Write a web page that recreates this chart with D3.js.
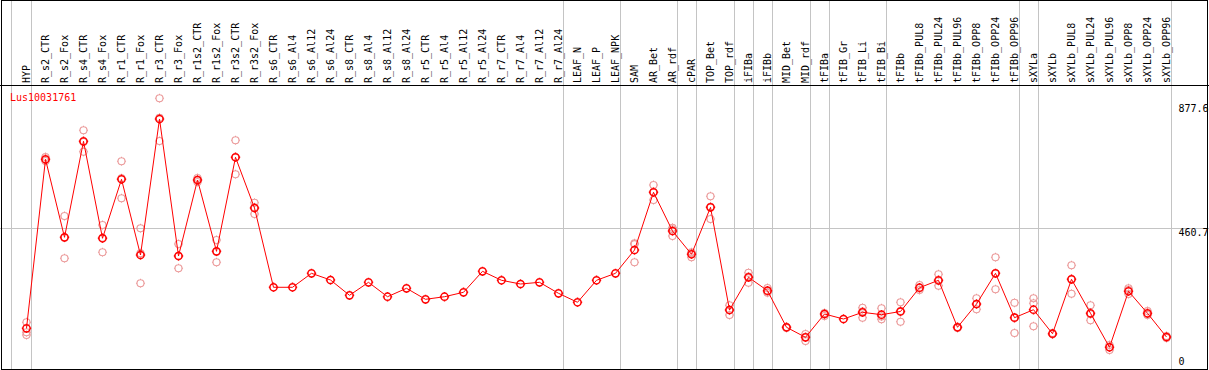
<!DOCTYPE html>
<html>
<head>
<meta charset="utf-8">
<script src="https://cdn.jsdelivr.net/npm/d3@7"></script>
<style>
  body { margin: 0; background: #fff; }
  text { font-family: "DejaVu Sans Mono", monospace; font-size: 10px; }
</style>
</head>
<body>
<div id="chart"></div>
<script>
const gene = "Lus10031761";

const samples = ["HYP", "R_s2_CTR", "R_s2_Fox", "R_s4_CTR", "R_s4_Fox", "R_r1_CTR", "R_r1_Fox",
  "R_r3_CTR", "R_r3_Fox", "R_r1s2_CTR", "R_r1s2_Fox", "R_r3s2_CTR", "R_r3s2_Fox",
  "R_s6_CTR", "R_s6_Al4", "R_s6_Al12", "R_s6_Al24", "R_s8_CTR", "R_s8_Al4", "R_s8_Al12", "R_s8_Al24",
  "R_r5_CTR", "R_r5_Al4", "R_r5_Al12", "R_r5_Al24", "R_r7_CTR", "R_r7_Al4", "R_r7_Al12", "R_r7_Al24",
  "LEAF_N", "LEAF_P", "LEAF_NPK", "SAM", "AR_Bet", "AR_rdf", "cPAR", "TOP_Bet", "TOP_rdf",
  "iFIBa", "iFIBb", "MID_Bet", "MID_rdf", "tFIBa", "tFIB_Gr", "tFIB_Li", "tFIB_Bi", "tFIBb",
  "tFIBb_PUL8", "tFIBb_PUL24", "tFIBb_PUL96", "tFIBb_OPP8", "tFIBb_OPP24", "tFIBb_OPP96",
  "sXYLa", "sXYLb", "sXYLb_PUL8", "sXYLb_PUL24", "sXYLb_PUL96", "sXYLb_OPP8", "sXYLb_OPP24", "sXYLb_OPP96"];

// mean expression per sample
const means = [125.1, 692.1, 430.4, 752.5, 427.1, 625.0, 371.0, 827.3, 367.7, 622.6, 383.4, 698.8, 528.7,
  262.7, 262.7, 309.6, 287.2, 235.8, 279.4, 231.1, 259.3, 222.4, 231.1, 245.9, 316.3, 286.2, 273.7, 279.4, 242.5,
  212.4, 286.2, 309.6, 387.8, 581.4, 451.5, 373.4, 531.0, 186.5, 296.2, 251.3, 128.5, 94.9, 173.1, 156.3,
  178.8, 170.8, 181.5, 261.3, 286.2, 128.5, 206.6, 309.6, 160.7, 187.5, 107.0, 289.5, 175.5, 61.4, 249.3, 175.5, 95.9];

// individual replicates per sample
const replicates = [
  [145.3, 111.7, 102.7], [699.8, 689.7, 686.4], [501.9, 429.4, 360.0], [789.4, 750.1, 717.6],
  [471.7, 429.1, 380.1], [685.4, 628.3, 561.2], [460.6, 376.4, 276.1], [896.7, 831.6, 753.5],
  [407.9, 368.7, 326.4], [629.3, 622.6, 616.0], [421.4, 382.4, 346.5], [755.8, 698.8, 641.8],
  [546.5, 531.0, 508.6],
  [], [], [], [], [], [], [], [], [], [], [], [], [], [], [], [], [], [], [],
  [410.0, 406.9, 346.5], [605.9, 582.4, 555.5], [462.6, 457.3, 434.8], [380.1, 376.7, 363.3],
  [568.0, 533.1, 491.8], [202.3, 187.5, 169.7], [311.7, 298.6, 278.1], [260.3, 248.9, 244.6],
  [129.5, 128.5, 126.1], [106.0, 95.9, 82.5], [176.5, 173.1, 166.4], [],
  [194.2, 181.2, 160.7], [192.2, 165.1, 155.3], [212.4, 183.2, 147.3], [270.4, 260.3, 253.6],
  [306.3, 283.8, 268.0], [129.5, 128.5, 126.1], [225.8, 205.6, 188.9], [363.3, 309.6, 256.0],
  [211.0, 161.7, 109.4], [225.8, 209.0, 131.8], [109.4, 106.0, 106.0], [336.5, 290.5, 241.2],
  [202.3, 172.1, 152.0], [69.1, 62.4, 52.3], [259.3, 253.6, 240.2], [183.2, 172.1, 169.7],
  [99.3, 95.9, 92.6]
];

const yTicks = [877.6, 460.7, 0];
// last sample of each group, a grey separator follows it
const groupEnds = ["HYP", "R_r7_Al24", "LEAF_NPK", "AR_rdf", "cPAR", "TOP_rdf", "iFIBa", "iFIBb",
  "MID_rdf", "tFIBa", "tFIB_Bi", "tFIBb_OPP96", "sXYLa", "sXYLb_OPP96"];

const width = 1209, height = 370;
const headerBottom = 85.5, frameBottom = 369.5;

const svg = d3.select("#chart")
  .append("svg")
  .attr("width", width)
  .attr("height", height);

const x = d3.scalePoint().domain(samples).range([26.5, 1166.5]);
const y = d3.scaleLinear().domain([0, 877.6]).range([365.6, 104]);

// grey guides
const sep = [x(samples[0]) - 16].concat(groupEnds.map(s => x(s) + 4));
svg.selectAll(".sep")
  .data(sep)
  .enter()
  .append("line")
  .attr("class", "sep")
  .attr("x1", d => Math.round(d) + 0.5)
  .attr("x2", d => Math.round(d) + 0.5)
  .attr("y1", 0)
  .attr("y2", frameBottom)
  .attr("stroke", "#c4c4c4");

svg.append("line")
  .attr("x1", 0).attr("x2", width)
  .attr("y1", Math.round(y(yTicks[1])) + 0.5)
  .attr("y2", Math.round(y(yTicks[1])) + 0.5)
  .attr("stroke", "#c4c4c4");

// frame + header rule
svg.append("rect")
  .attr("x", 1.5).attr("y", 0.5)
  .attr("width", 1206).attr("height", frameBottom - 0.5)
  .attr("fill", "none")
  .attr("stroke", "#000");

svg.append("line")
  .attr("x1", 0).attr("x2", width)
  .attr("y1", headerBottom).attr("y2", headerBottom)
  .attr("stroke", "#000");

// sample labels
svg.selectAll(".lab")
  .data(samples)
  .enter()
  .append("text")
  .attr("class", "lab")
  .attr("transform", d => "translate(" + (x(d) + 3.5) + ",83) rotate(-90)")
  .attr("fill", "#000")
  .text(d => d);

// little circle with four short stubs
const ring = (r) => {
  const p = d3.path();
  p.moveTo(r, 0); p.arc(0, 0, r, 0, 2 * Math.PI);
  [[r, 0], [-r, 0], [0, r], [0, -r]].forEach(([a, b]) => {
    p.moveTo(a, b); p.lineTo(a * 1.3, b * 1.3);
  });
  return p.toString();
};

// replicate points
const reps = [];
replicates.forEach((vals, i) => vals.forEach(v => reps.push({ s: samples[i], v: v })));

svg.selectAll(".rep")
  .data(reps)
  .enter()
  .append("path")
  .attr("class", "rep")
  .attr("transform", d => "translate(" + x(d.s) + "," + y(d.v) + ")")
  .attr("d", ring(3.5))
  .attr("fill", "none")
  .attr("stroke", "#eb9a9a")
  .attr("stroke-width", 1.1);

// mean line
const line = d3.line()
  .x((d, i) => x(samples[i]))
  .y(d => y(d));

svg.append("path")
  .datum(means)
  .attr("d", line)
  .attr("fill", "none")
  .attr("stroke", "#ff0000")
  .attr("stroke-width", 1);

svg.selectAll(".mean")
  .data(means)
  .enter()
  .append("path")
  .attr("class", "mean")
  .attr("transform", (d, i) => "translate(" + x(samples[i]) + "," + y(d) + ")")
  .attr("d", ring(3.6))
  .attr("fill", "none")
  .attr("stroke", "#ff0000")
  .attr("stroke-width", 1.5);

// gene name
svg.append("text")
  .attr("x", 10)
  .attr("y", 100.5)
  .attr("fill", "#ff0000")
  .text(gene);

// value labels on the right
svg.selectAll(".ylab")
  .data(yTicks)
  .enter()
  .append("text")
  .attr("class", "ylab")
  .attr("x", 1178.5)
  .attr("y", (d, i) => i < 2 ? y(d) + 7.8 : y(d) - 0.5)
  .attr("fill", "#000")
  .text(d => d);
</script>
</body>
</html>
